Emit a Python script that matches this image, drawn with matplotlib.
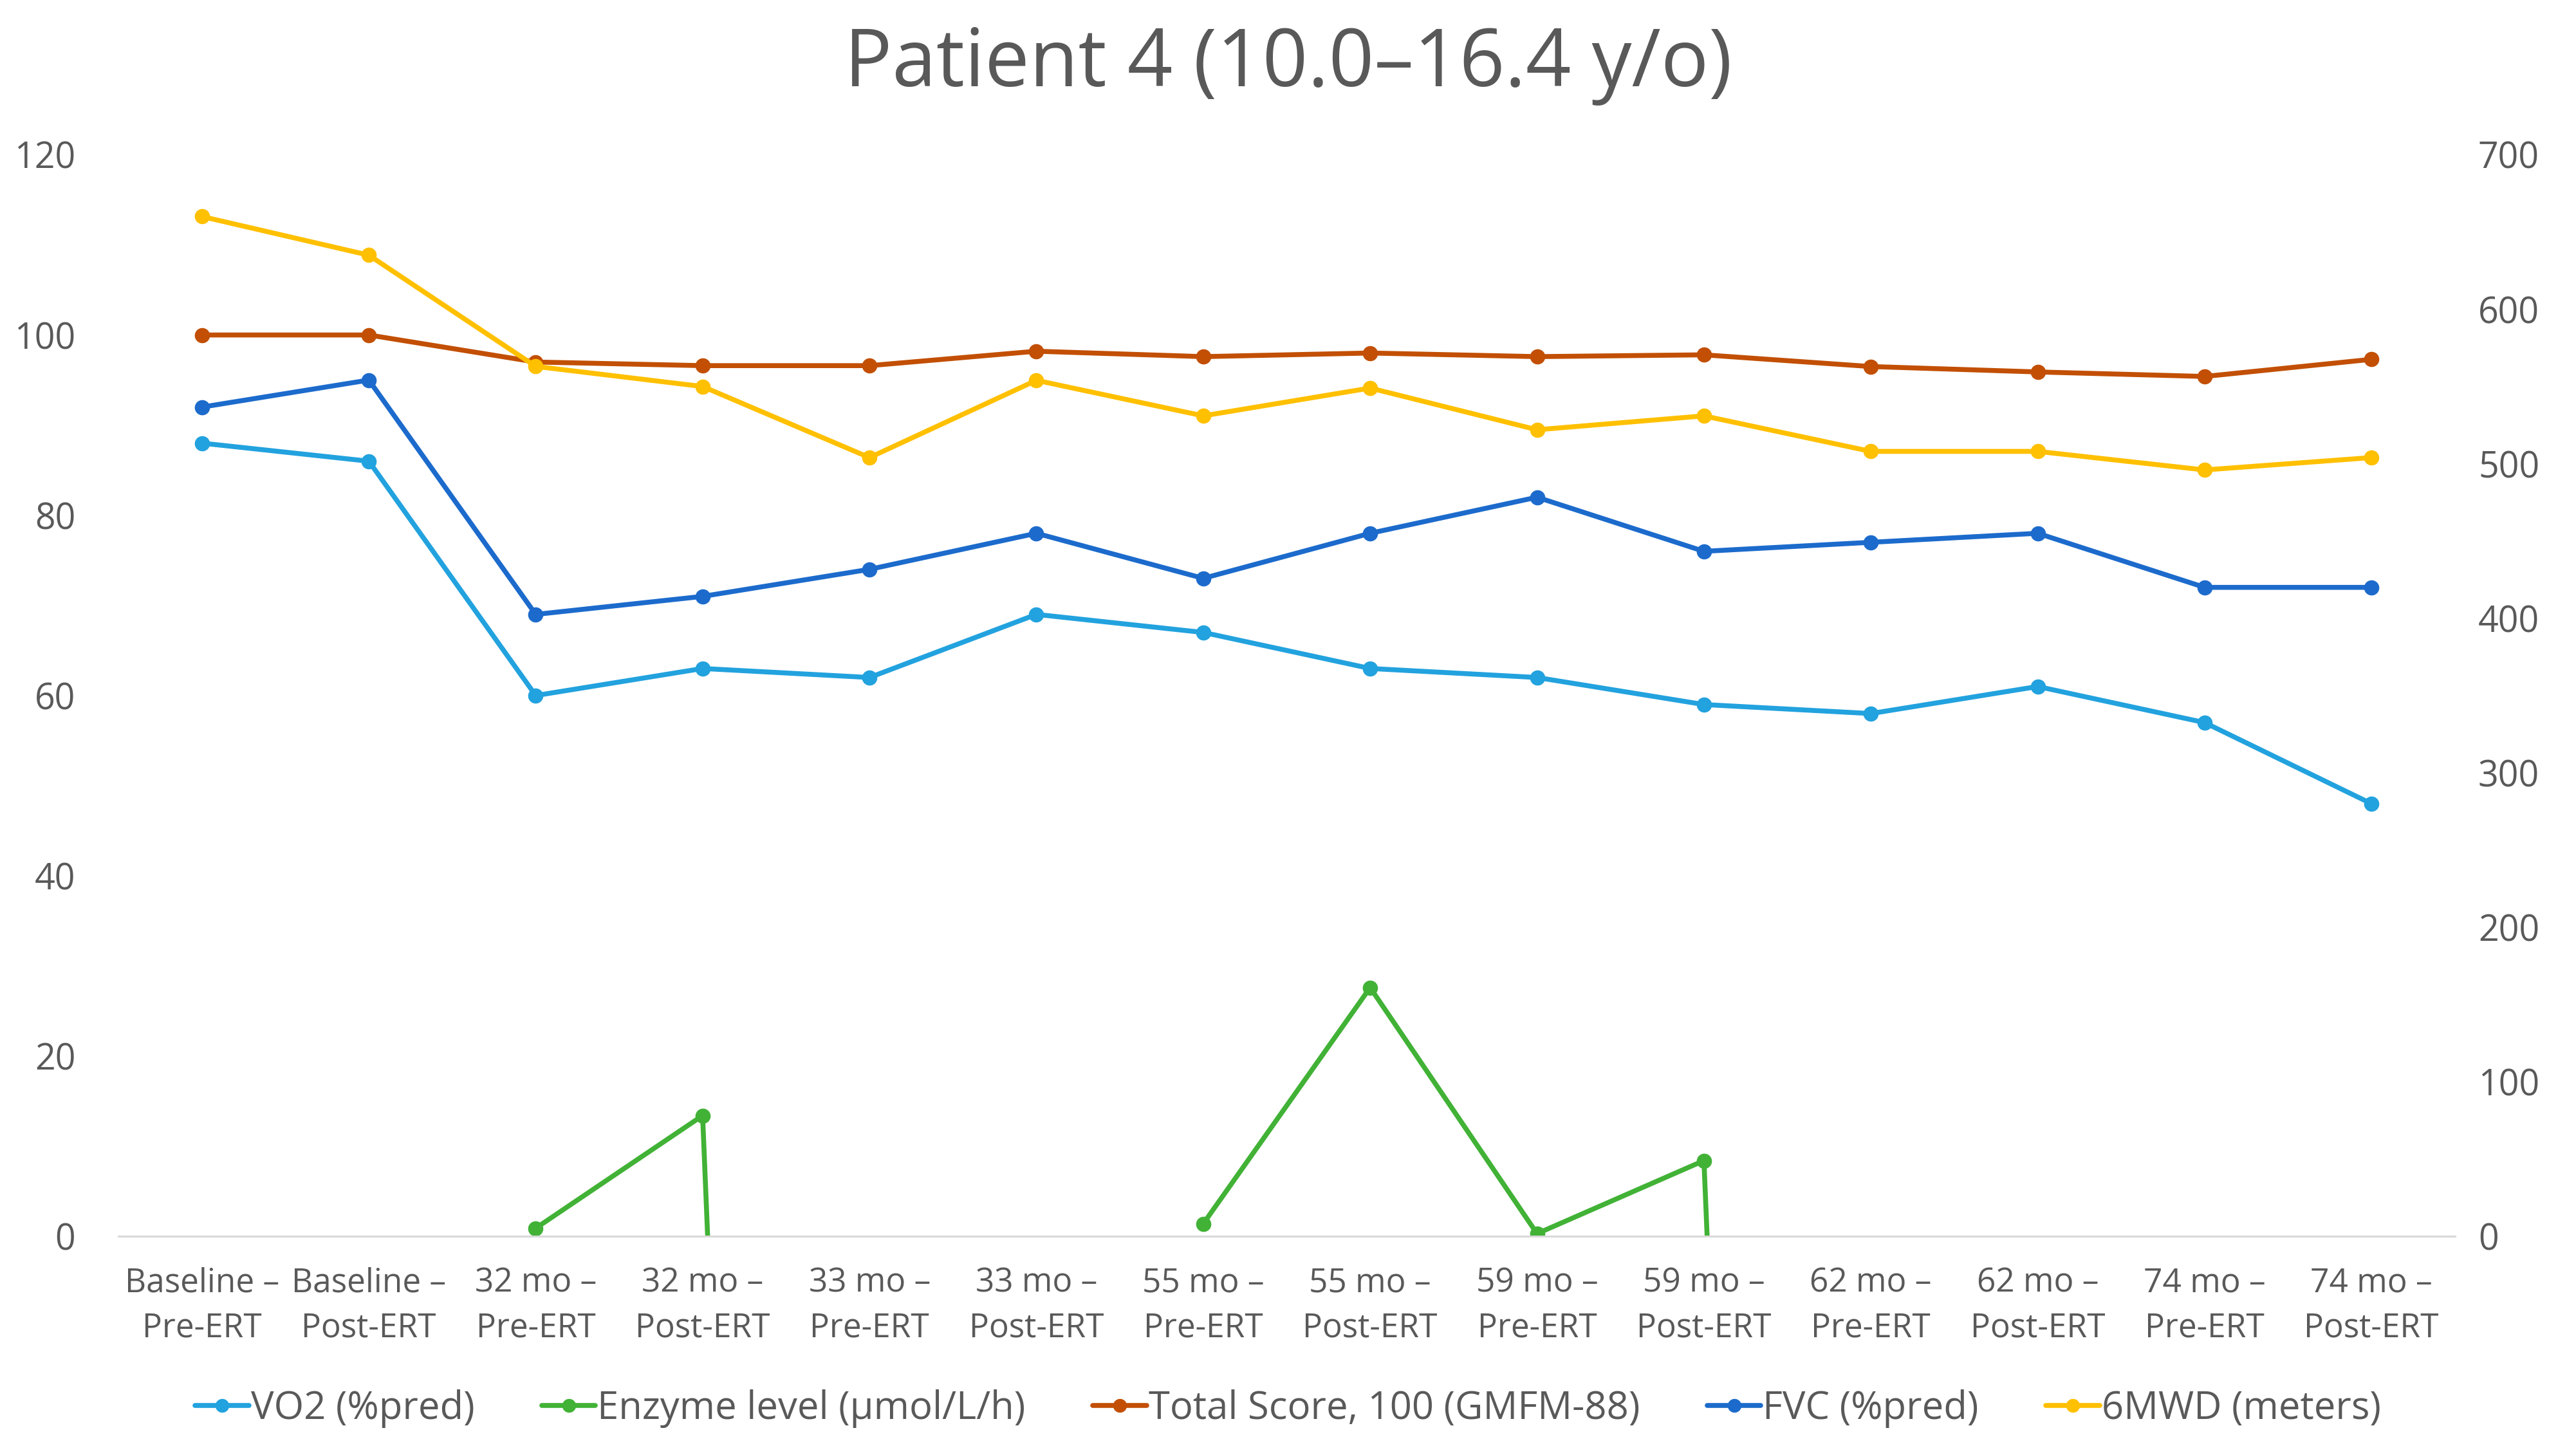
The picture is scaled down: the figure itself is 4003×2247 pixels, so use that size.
import matplotlib
matplotlib.use("Agg")
import matplotlib.pyplot as plt
import numpy as np

plt.rcParams["font.family"] = ["Open Sans", "DejaVu Sans"]

# visits (x categories)
visits = ["Baseline –\nPre-ERT", "Baseline –\nPost-ERT",
          "32 mo –\nPre-ERT", "32 mo –\nPost-ERT",
          "33 mo –\nPre-ERT", "33 mo –\nPost-ERT",
          "55 mo –\nPre-ERT", "55 mo –\nPost-ERT",
          "59 mo –\nPre-ERT", "59 mo –\nPost-ERT",
          "62 mo –\nPre-ERT", "62 mo –\nPost-ERT",
          "74 mo –\nPre-ERT", "74 mo –\nPost-ERT"]

# left axis series
vo2 = [88, 86, 60, 63, 62, 69, 67, 63, 62, 59, 58, 61, 57, 48]
# enzyme: blanks are nan, the two sentinel cells dive off the bottom of the chart
enzyme = [np.nan, np.nan, 0.9, 13.4, -430, np.nan, 1.4, 27.6, 0.3, 8.4, -430,
          np.nan, np.nan, np.nan]
total_score = [100, 100, 97.0, 96.6, 96.6, 98.2, 97.6, 98.0, 97.6, 97.8, 96.5,
               95.9, 95.4, 97.3]
fvc = [92, 95, 69, 71, 74, 78, 73, 78, 82, 76, 77, 78, 72, 72]

# right axis series
sixmwd = [660, 635, 563, 550, 504, 554, 531, 549, 522, 531, 508, 508, 496, 504]

left_ticks = [0, 20, 40, 60, 80, 100, 120]
right_ticks = [0, 100, 200, 300, 400, 500, 600, 700]

TEXT = "#595959"
C_VO2 = "#22A2DE"
C_ENZ = "#41B236"
C_TOT = "#C24F04"
C_FVC = "#1C6BCC"
C_6MW = "#FFC000"

fig = plt.figure(figsize=(40.03, 22.47), dpi=100)
ax = fig.add_axes([0.046, 0.145, 0.907, 0.748])
ax2 = ax.twinx()

x = np.arange(len(visits))
kw = dict(lw=5.5, marker="o", markersize=16, solid_capstyle="round")
h1, = ax.plot(x, vo2, color=C_VO2, label="VO2 (%pred)", **kw)
h2, = ax.plot(x, enzyme, color=C_ENZ, label="Enzyme level (µmol/L/h)", **kw)
h3, = ax.plot(x, total_score, color=C_TOT, label="Total Score, 100 (GMFM-88)", **kw)
h4, = ax.plot(x, fvc, color=C_FVC, label="FVC (%pred)", **kw)
h5, = ax2.plot(x, sixmwd, color=C_6MW, label="6MWD (meters)", **kw)

ax.set_xlim(-0.5, len(visits) - 0.5)
ax.set_ylim(0, 120)
ax2.set_ylim(0, 700)
ax.set_yticks(left_ticks)
ax2.set_yticks(right_ticks)
ax.set_xticks(x)
ax.set_xticklabels(visits, linespacing=1.5)

for s in ["top", "left", "right"]:
    ax.spines[s].set_visible(False)
for s in ax2.spines.values():
    s.set_visible(False)
ax.spines["bottom"].set_color("#D9D9D9")
ax.spines["bottom"].set_linewidth(2.2)

ax.tick_params(axis="x", length=0, pad=34, labelsize=37, labelcolor=TEXT)
ax.tick_params(axis="y", length=0, pad=48, labelsize=40, labelcolor=TEXT)
ax2.tick_params(axis="y", length=0, pad=26, labelsize=40, labelcolor=TEXT)

fig.text(0.5, 0.955, "Patient 4 (10.0–16.4 y/o)", ha="center", va="center",
         fontsize=89, color=TEXT)

fig.legend(handles=[h1, h2, h3, h4, h5], loc="center",
           bbox_to_anchor=(0.5, 0.026), ncol=5, frameon=False,
           fontsize=43, labelcolor=TEXT, handlelength=1.4,
           handletextpad=0.05, columnspacing=1.75, markerscale=0.9)

fig.savefig("out.png", dpi=100)
